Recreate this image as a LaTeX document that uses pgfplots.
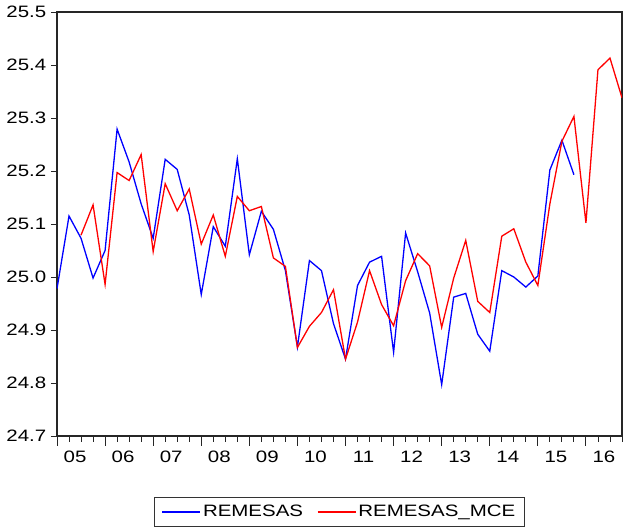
\documentclass[border=0pt]{standalone}
\usepackage{fontspec}
\setmainfont{Liberation Sans}[FakeStretch=1.24]
\usepackage{pgfplots}
\pgfplotsset{compat=1.18}
\newcommand{\lblfont}{\fontsize{16.5bp}{19bp}\selectfont}
\begin{document}
\begin{tikzpicture}
\begin{axis}[
  name=ax, at={(0,0)}, anchor=south west,
  scale only axis, width=565bp, height=424bp,
  xmin=0, xmax=47, ymin=24.7, ymax=25.5,
  axis line style={line width=1.1bp, black!85},
  tick align=outside, xtick pos=bottom, ytick pos=left,
  tick style={line width=0.9bp, black!85},
  ytick={24.7,24.8,24.9,25.0,25.1,25.2,25.3,25.4,25.5},
  ytick style={/pgfplots/major tick length=6bp},
  /pgf/number format/fixed, /pgf/number format/fixed zerofill, /pgf/number format/precision=1,
  /pgf/number format/assume math mode=true,
  yticklabel style={font=\lblfont, xshift=-3bp},
  xtick={0,4,8,12,16,20,24,28,32,36,40,44},
  xticklabels={05,06,07,08,09,10,11,12,13,14,15,16},
  xticklabel style={font=\lblfont, xshift=18.03bp, yshift=-7bp},
  xtick style={/pgfplots/major tick length=10bp, /pgfplots/minor tick length=6bp},
  minor xtick={1,2,3,5,6,7,9,10,11,13,14,15,17,18,19,21,22,23,25,26,27,29,30,31,33,34,35,37,38,39,41,42,43,45,46,47},
  legend style={at={(0.5,-0.1439)}, anchor=north, legend columns=2, draw=black!80, line width=0.9bp,
    font=\lblfont, inner xsep=7bp, inner ysep=6bp,
    /tikz/every even column/.append style={column sep=12bp}},
  legend image code/.code={\draw[#1, line width=1.3bp] (0bp,0bp) -- (38bp,0bp);},
]
\addplot[blue, line width=1.3bp] coordinates {
(0,24.978) (1,25.115) (2,25.073) (3,24.998) (4,25.050) (5,25.279) (6,25.217) (7,25.138)
(8,25.073) (9,25.222) (10,25.203) (11,25.117) (12,24.967) (13,25.095) (14,25.058) (15,25.223)
(16,25.042) (17,25.124) (18,25.090) (19,25.012) (20,24.868) (21,25.031) (22,25.012) (23,24.912)
(24,24.845) (25,24.984) (26,25.028) (27,25.039) (28,24.858) (29,25.083) (30,25.010) (31,24.932)
(32,24.797) (33,24.962) (34,24.969) (35,24.892) (36,24.860) (37,25.012) (38,25.000) (39,24.981)
(40,25.002) (41,25.202) (42,25.258) (43,25.193)
};
\addlegendentry{REMESAS}
\addplot[red, line width=1.3bp] coordinates {
(2,25.079) (3,25.136) (4,24.986) (5,25.197) (6,25.182) (7,25.231)
(8,25.048) (9,25.176) (10,25.125) (11,25.166) (12,25.062) (13,25.117) (14,25.039) (15,25.152)
(16,25.125) (17,25.133) (18,25.036) (19,25.020) (20,24.867) (21,24.907) (22,24.933) (23,24.976)
(24,24.845) (25,24.915) (26,25.012) (27,24.948) (28,24.908) (29,24.993) (30,25.044) (31,25.021)
(32,24.905) (33,24.998) (34,25.069) (35,24.954) (36,24.933) (37,25.077) (38,25.091) (39,25.028)
(40,24.984) (41,25.138) (42,25.256) (43,25.303) (44,25.102) (45,25.391) (46,25.413) (47,25.338)
};
\addlegendentry{REMESAS\_MCE}
\end{axis}
\pgfresetboundingbox
\path[use as bounding box] ([xshift=-57bp,yshift=-93bp]ax.south west) rectangle ([xshift=1bp,yshift=12bp]ax.north east);
\end{tikzpicture}
\end{document}
